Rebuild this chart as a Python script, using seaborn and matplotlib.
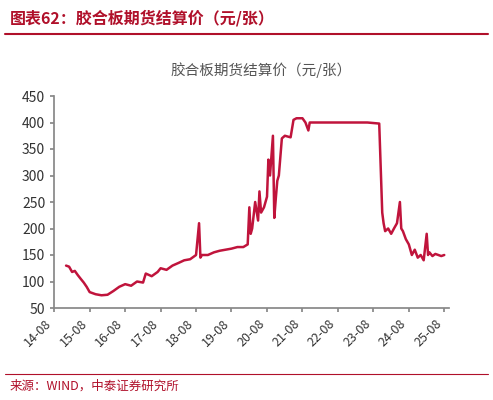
import matplotlib
matplotlib.use("Agg")
import matplotlib.pyplot as plt
import seaborn as sns
import pandas as pd
import matplotlib.dates as mdates

dates = ["2014-12-01","2015-01-01","2015-02-01","2015-03-01","2015-04-01","2015-05-01","2015-06-01","2015-07-01",
"2015-08-01","2015-10-01","2015-12-01","2016-02-01","2016-04-01","2016-06-01","2016-08-01","2016-10-01",
"2016-12-01","2017-02-01","2017-03-01","2017-05-01","2017-07-01","2017-08-01","2017-10-01","2017-12-01",
"2018-02-01","2018-04-01","2018-06-01","2018-08-01","2018-09-01","2018-09-15","2018-10-01","2018-12-01",
"2019-02-01","2019-04-01","2019-06-01","2019-08-01","2019-10-01","2019-12-01","2020-01-15","2020-02-01",
"2020-02-15","2020-03-01","2020-04-01","2020-05-01","2020-05-15","2020-06-01","2020-07-01","2020-08-01",
"2020-08-15","2020-09-01","2020-10-01","2020-10-15","2020-11-01","2020-11-15","2020-12-01","2021-01-01",
"2021-02-01","2021-04-01","2021-05-01","2021-06-01","2021-08-01","2021-09-01","2021-10-01","2021-10-15",
"2021-11-01","2022-03-01","2022-08-01","2023-01-01","2023-06-01","2023-10-01","2023-11-01","2023-11-15",
"2023-12-01","2024-01-01","2024-02-01","2024-03-01","2024-04-01","2024-05-01","2024-05-15","2024-06-01",
"2024-07-01","2024-08-01","2024-09-01","2024-10-01","2024-11-01","2024-12-01","2025-01-01","2025-02-01",
"2025-02-15","2025-03-01","2025-04-01","2025-05-01","2025-06-01","2025-07-01","2025-08-01"]
values = [130,128,118,120,112,105,98,90,
80,76,74,75,82,90,95,92,
100,98,115,110,118,125,122,130,
135,140,142,150,210,145,150,150,
155,158,160,162,165,165,170,240,
190,200,250,215,270,230,240,260,
330,300,375,220,260,290,300,370,
375,372,405,408,408,400,385,400,
400,400,400,400,400,398,230,210,
195,200,190,200,210,250,200,195,
180,170,150,160,145,150,140,190,
150,155,148,152,150,148,150]

sns.set_theme(style="white")
plt.rcParams['font.family'] = ['Noto Sans CJK SC', 'DejaVu Sans']
df = pd.DataFrame({"date": pd.to_datetime(dates), "value": values})

fig = plt.figure(figsize=(4.93, 4.0), dpi=100)
ax = fig.add_axes([0.11, 0.23, 0.80, 0.53])
sns.lineplot(data=df, x="date", y="value", ax=ax, color="#C0143C", linewidth=1.8)
ax.set_ylim(50, 450)
ax.set_yticks(range(50, 451, 50))
ax.set_xlim(pd.Timestamp("2014-08-01"), pd.Timestamp("2025-09-15"))
ax.set_xticks([pd.Timestamp(f"20{y:02d}-08-01") for y in range(14, 26)])
ax.xaxis.set_major_formatter(mdates.DateFormatter("%y-%m"))
plt.setp(ax.get_xticklabels(), rotation=45, ha="right", fontsize=9, color="#333333")
plt.setp(ax.get_yticklabels(), fontsize=10, color="#333333")
ax.set_xlabel(""); ax.set_ylabel("")
for s in ["top", "right"]:
    ax.spines[s].set_visible(False)
for s in ["left", "bottom"]:
    ax.spines[s].set_color("#888888")
ax.tick_params(axis="both", length=3, color="#888888", bottom=True, left=True)

fig.text(0.02, 0.955, "图表62：胶合板期货结算价（元/张）", color="#B0102A", fontsize=11.5,
         fontweight="bold", style="italic", va="center")
fig.add_artist(plt.Line2D([0.01, 0.99], [0.915, 0.915], color="#B0102A", lw=1.5))
fig.text(0.53, 0.825, "胶合板期货结算价（元/张）", color="#555555", fontsize=10.5, ha="center", va="center")
fig.add_artist(plt.Line2D([0.01, 0.99], [0.065, 0.065], color="#B0102A", lw=0.8))
fig.text(0.02, 0.035, "来源：WIND，中泰证券研究所", color="#B0102A", fontsize=9, va="center")
fig.savefig("out.png", dpi=100)
